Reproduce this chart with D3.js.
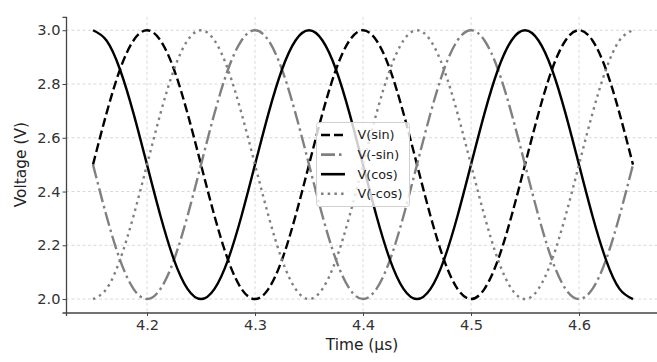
<!DOCTYPE html>
<html>
<head>
<meta charset="utf-8">
<script src="https://cdn.jsdelivr.net/npm/d3@7"></script>
<style>
  body { margin: 0; background: #fff; }
  text { font-family: "DejaVu Sans", sans-serif; }
</style>
</head>
<body>
<div id="my_dataviz"></div>
<script>
// data (time in µs, voltage in V)
var timeUs = [4.15, 4.1625, 4.175, 4.1875, 4.2, 4.2125, 4.225, 4.2375, 4.25, 4.2625, 4.275, 4.2875,
  4.3, 4.3125, 4.325, 4.3375, 4.35, 4.3625, 4.375, 4.3875, 4.4, 4.4125, 4.425, 4.4375,
  4.45, 4.4625, 4.475, 4.4875, 4.5, 4.5125, 4.525, 4.5375, 4.55, 4.5625, 4.575, 4.5875,
  4.6, 4.6125, 4.625, 4.6375, 4.65]

var vSin = [2.5, 2.691, 2.854, 2.962, 3.0, 2.962, 2.854, 2.691, 2.5, 2.309, 2.146, 2.038, 2.0, 2.038, 2.146, 2.309,
  2.5, 2.691, 2.854, 2.962, 3.0, 2.962, 2.854, 2.691, 2.5, 2.309, 2.146, 2.038, 2.0, 2.038, 2.146, 2.309,
  2.5, 2.691, 2.854, 2.962, 3.0, 2.962, 2.854, 2.691, 2.5]

var vNegSin = [2.5, 2.309, 2.146, 2.038, 2.0, 2.038, 2.146, 2.309, 2.5, 2.691, 2.854, 2.962, 3.0, 2.962, 2.854, 2.691,
  2.5, 2.309, 2.146, 2.038, 2.0, 2.038, 2.146, 2.309, 2.5, 2.691, 2.854, 2.962, 3.0, 2.962, 2.854, 2.691,
  2.5, 2.309, 2.146, 2.038, 2.0, 2.038, 2.146, 2.309, 2.5]

var vCos = [3.0, 2.962, 2.854, 2.691, 2.5, 2.309, 2.146, 2.038, 2.0, 2.038, 2.146, 2.309, 2.5, 2.691, 2.854, 2.962,
  3.0, 2.962, 2.854, 2.691, 2.5, 2.309, 2.146, 2.038, 2.0, 2.038, 2.146, 2.309, 2.5, 2.691, 2.854, 2.962,
  3.0, 2.962, 2.854, 2.691, 2.5, 2.309, 2.146, 2.038, 2.0]

var vNegCos = [2.0, 2.038, 2.146, 2.309, 2.5, 2.691, 2.854, 2.962, 3.0, 2.962, 2.854, 2.691, 2.5, 2.309, 2.146, 2.038,
  2.0, 2.038, 2.146, 2.309, 2.5, 2.691, 2.854, 2.962, 3.0, 2.962, 2.854, 2.691, 2.5, 2.309, 2.146, 2.038,
  2.0, 2.038, 2.146, 2.309, 2.5, 2.691, 2.854, 2.962, 3.0]

var seriesNames = ["V(sin)", "V(-sin)", "V(cos)", "V(-cos)"]
var xTicks = [4.2, 4.3, 4.4, 4.5, 4.6]
var yTicks = [2.0, 2.2, 2.4, 2.6, 2.8, 3.0]

// set the dimensions
var width = 657,
    height = 362,
    plotLeft = 66,
    plotRight = 660,
    plotTop = 16.8,
    plotBottom = 312.5

var svg = d3.select("#my_dataviz")
  .append("svg")
    .attr("width", width)
    .attr("height", height)

var x = d3.scaleLinear().domain([4.125, 4.675]).range([plotLeft, plotRight])
var y = d3.scaleLinear().domain([1.95, 3.05]).range([plotBottom, plotTop])

// grid
svg.append("g").selectAll("line").data(xTicks).enter().append("line")
  .attr("x1", function(d) { return x(d) }).attr("x2", function(d) { return x(d) })
  .attr("y1", plotTop).attr("y2", plotBottom)
  .attr("stroke", "#cfcfcf").attr("stroke-width", 0.8).attr("stroke-dasharray", "3,2.5")
svg.append("g").selectAll("line").data(yTicks).enter().append("line")
  .attr("y1", function(d) { return y(d) }).attr("y2", function(d) { return y(d) })
  .attr("x1", plotLeft).attr("x2", plotRight)
  .attr("stroke", "#cfcfcf").attr("stroke-width", 0.8).attr("stroke-dasharray", "3,2.5")

// the series
var styles = [
  { values: vSin, color: "#000000", dash: "9,4" },
  { values: vNegSin, color: "#808080", dash: "14,4,2.5,4" },
  { values: vCos, color: "#000000", dash: null },
  { values: vNegCos, color: "#808080", dash: "2.5,4.2" }
]

var line = d3.line()
  .x(function(d) { return x(d[0]) })
  .y(function(d) { return y(d[1]) })
  .curve(d3.curveNatural)

styles.forEach(function(s) {
  svg.append("path")
    .datum(timeUs.map(function(t, i) { return [t, s.values[i]] }))
    .attr("d", line)
    .attr("fill", "none")
    .attr("stroke", s.color)
    .attr("stroke-width", 2.4)
    .attr("stroke-dasharray", s.dash)
})

// axes
var xAxis = svg.append("g")
  .attr("transform", "translate(0," + plotBottom + ")")
  .call(d3.axisBottom(x).tickValues(xTicks).tickFormat(d3.format(".1f")).tickSizeOuter(0).tickSize(3.5).tickPadding(4))
var yAxis = svg.append("g")
  .attr("transform", "translate(" + plotLeft + ",0)")
  .call(d3.axisLeft(y).tickValues(yTicks).tickFormat(d3.format(".1f")).tickSizeOuter(0).tickSize(3.5).tickPadding(2))

;[xAxis, yAxis].forEach(function(a) {
  a.select(".domain").attr("stroke", "#444").attr("stroke-width", 1.3)
  a.selectAll(".tick line").attr("stroke", "#444")
  a.selectAll(".tick text").attr("fill", "#333").style("font-size", "14.6px").style("font-family", "DejaVu Sans")
})

svg.append("text")
  .attr("x", (plotLeft + plotRight) / 2 - 1).attr("y", 350)
  .attr("text-anchor", "middle").attr("fill", "#222")
  .style("font-size", "15.4px")
  .text("Time (µs)")

svg.append("text")
  .attr("transform", "translate(25.5," + ((plotTop + plotBottom) / 2) + ") rotate(-90)")
  .attr("text-anchor", "middle").attr("fill", "#222")
  .style("font-size", "15.4px")
  .text("Voltage (V)")

// legend
var legend = svg.append("g").attr("transform", "translate(316.5,122.5)")
legend.append("rect")
  .attr("width", 93).attr("height", 84).attr("rx", 3)
  .attr("fill", "#fff").attr("fill-opacity", 0.8)
  .attr("stroke", "#d0d0d0").attr("stroke-width", 1)

seriesNames.forEach(function(name, i) {
  var yy = 12.5 + i * 19.6
  legend.append("line")
    .attr("x1", 4.5).attr("x2", 28.5).attr("y1", yy).attr("y2", yy)
    .attr("stroke", styles[i].color).attr("stroke-width", 2.6)
    .attr("stroke-dasharray", styles[i].dash)
  legend.append("text")
    .attr("x", 41).attr("y", yy).attr("dy", "0.35em")
    .attr("fill", "#222")
    .style("font-size", "12.8px")
    .text(name)
})
</script>
</body>
</html>
